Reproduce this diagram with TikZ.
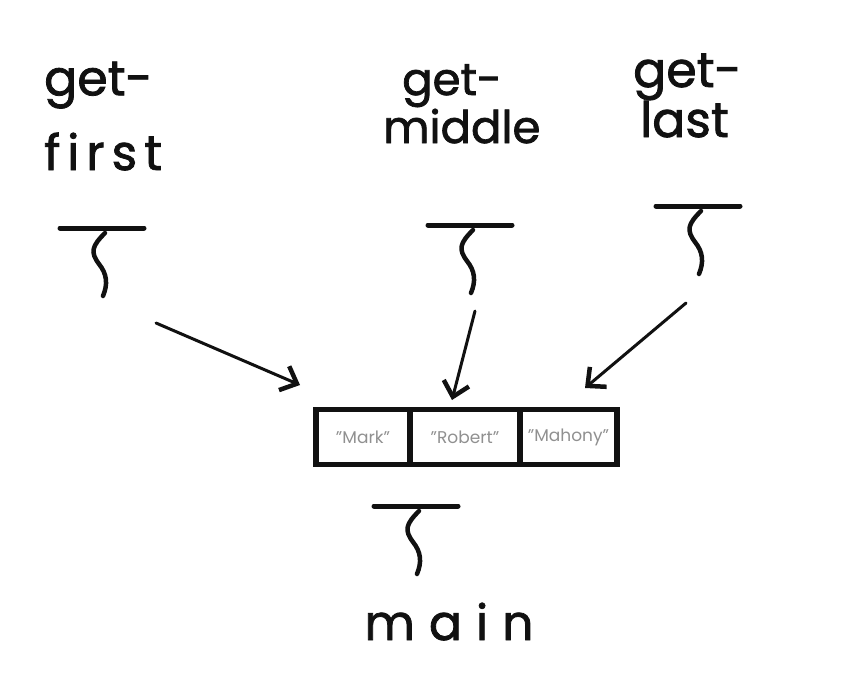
\documentclass[tikz,border=0pt]{standalone}
\usepackage{fontspec}
\setmainfont{Poppins}
\usetikzlibrary{arrows.meta, positioning}
\definecolor{ink}{HTML}{111111}
\definecolor{pencil}{HTML}{909090}
\newcommand{\gapk}{\kern7pt}
\tikzset{
  fnlbl/.style  = {font=\fontsize{49}{50}\selectfont\addfontfeature{FakeBold=1.6}, text=ink,
                   align=left, inner sep=0pt},
  cellbox/.style= {rectangle, draw=ink, line width=5.5pt, minimum height=55pt, outer sep=0pt,
                   inner sep=0pt, font=\fontsize{17}{17}\selectfont, text=pencil},
  flow/.style   = {-{Straight Barb[length=14pt, width=26pt, line width=4.5pt]}, line width=3pt,
                   draw=ink, line cap=round},
  stackframe/.pic = {
    \draw[ink, line width=5pt, line cap=round] (-42,0) -- (42,0);
    \draw[ink, line width=4.5pt, line cap=round] (3,5) .. controls (-10,18) and (-12,24) .. (-3,36)
          .. controls (5,46) and (6,56) .. (1,68);
  },
}

\begin{document}
\begin{tikzpicture}[x=1pt, y=-1pt]
        \useasboundingbox (0,0) rectangle (860,675);
        % function names (base = last line)
        \node[fnlbl, anchor=base west] (first)  at (44,170)  {get-\\[23pt]f\gapk i\gapk r\gapk s\gapk t};
        \node[fnlbl, anchor=base west, font=\fontsize{45}{50}\selectfont\addfontfeature{FakeBold=1.6}]
             (middle) at (383,143) {\hspace{19pt}get-\\[-2pt]middle};
        \node[fnlbl, anchor=base west] (last)   at (633,137) {get-\\\hspace{7pt}last};
        \node[fnlbl, anchor=base] (main) at (449,640) {m\kern14pt a\kern14pt i\kern14pt n};
        % stack frames
        \pic at (102,228) {stackframe};
        \pic at (470,225) {stackframe};
        \pic at (698,206) {stackframe};
        \pic at (416,506) {stackframe};
        % the array
        \node[cellbox, minimum width=94pt, anchor=west] (mark)  at (316,437) {"Mark"};
        \node[cellbox, minimum width=110pt, right=0pt of mark] (robert) {"Robert"};
        \node[cellbox, minimum width=97pt, right=0pt of robert] (mahony) {"Mahony"};
        % arrow tails
        \coordinate (fromfirst)  at (156,323);
        \coordinate (frommiddle) at (475,311);
        \coordinate (fromlast)   at (686,303);
        \coordinate (tofirst)  at (300,385);
        \coordinate (tomiddle) at (452,400);
        \coordinate (tolast)   at (585,388);
        \foreach \x/\y in {first/first, middle/middle, last/last}{\draw[flow] (from\x) -- (to\y);}
    \end{tikzpicture}
\end{document}
